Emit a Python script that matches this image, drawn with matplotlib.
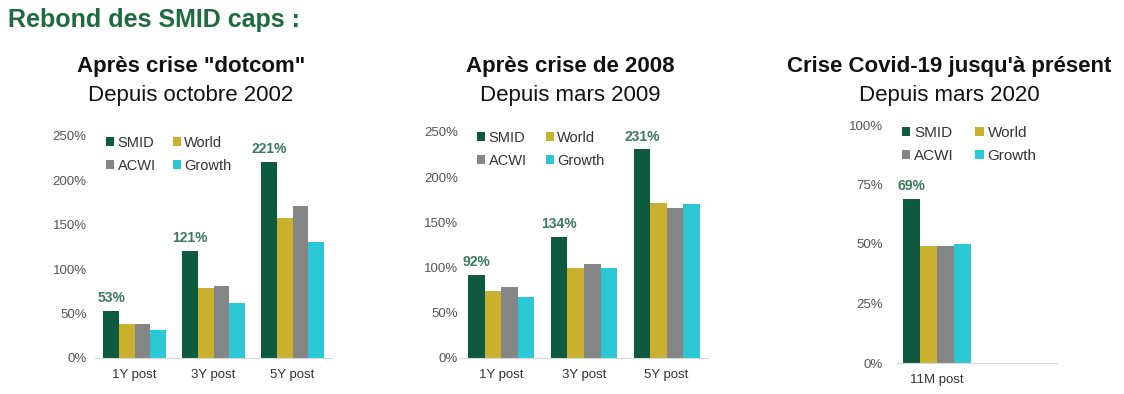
import matplotlib
matplotlib.use("Agg")
import matplotlib.pyplot as plt
from matplotlib.patches import Patch
import numpy as np

plt.rcParams['font.family'] = ['Liberation Sans', 'DejaVu Sans']

series = ["SMID", "World", "ACWI", "Growth"]
colors = ["#0e5a40", "#c9b12f", "#858585", "#2bc7d4"]

cats_dotcom = ["1Y post", "3Y post", "5Y post"]
smid_dotcom = [53, 121, 221]
world_dotcom = [38, 79, 158]
acwi_dotcom = [38, 81, 171]
growth_dotcom = [31, 62, 131]

cats_2008 = ["1Y post", "3Y post", "5Y post"]
smid_2008 = [92, 134, 231]
world_2008 = [74, 100, 172]
acwi_2008 = [78, 104, 166]
growth_2008 = [68, 100, 170]

cats_covid = ["11M post"]
smid_covid = [69]
world_covid = [49]
acwi_covid = [49]
growth_covid = [50]

ticks_250 = [0, 50, 100, 150, 200, 250]
ticks_100 = [0, 25, 50, 75, 100]

label_color = "#3b7a5e"
title_green = "#1d6b3e"

fig = plt.figure(figsize=(11.24, 3.94), dpi=100)
W, H = 1124, 394

def make_axes(x0, x1, ytop, ybot):
    return fig.add_axes([x0 / W, 1 - ybot / H, (x1 - x0) / W, (ybot - ytop) / H])

def draw(ax, cats, data, ymax, ticks, ncat_axis, bw, legend_xy, ypad, lfs, csp):
    x = np.arange(len(cats))
    for i, (vals, c) in enumerate(zip(data, colors)):
        ax.bar(x + (i - 1.5) * bw, vals, width=bw, color=c, zorder=2)
    for xi, v in zip(x, data[0]):
        ax.annotate(f"{v}%", (xi - 1.5 * bw, v), xytext=(0, 4), textcoords="offset points",
                    ha="center", va="bottom", fontsize=10, fontweight="bold", color=label_color)
    ax.set_xlim(-0.5, ncat_axis - 0.5)
    ax.set_ylim(0, ymax)
    ax.set_yticks(ticks)
    ax.set_yticklabels([f"{t}%" for t in ticks], fontsize=9.5, color="#555555")
    ax.set_xticks(x)
    ax.set_xticklabels(cats, fontsize=9.5, color="#333333")
    ax.tick_params(axis="both", length=0)
    ax.tick_params(axis="x", pad=8)
    ax.tick_params(axis="y", pad=ypad)
    for s in ["top", "right", "left"]:
        ax.spines[s].set_visible(False)
    ax.spines["bottom"].set_color("#d9d9d9")
    handles = [Patch(facecolor=c, edgecolor="none", label=s) for s, c in zip(series, colors)]
    order = [0, 2, 1, 3]  # column-wise fill -> rows: SMID, World / ACWI, Growth
    leg = fig.legend(handles=[handles[i] for i in order], ncol=2, frameon=False,
                     loc="upper left", bbox_to_anchor=(legend_xy[0] / W, 1 - legend_xy[1] / H),
                     fontsize=lfs, handlelength=0.55, handleheight=0.55, handletextpad=0.25,
                     columnspacing=csp, labelspacing=0.6, borderpad=0, borderaxespad=0)
    for t in leg.get_texts():
        t.set_color("#333333")

ax1 = make_axes(95, 332, 136, 358)
draw(ax1, cats_dotcom, [smid_dotcom, world_dotcom, acwi_dotcom, growth_dotcom],
     250, ticks_250, 3, 0.198, (106, 136), 6, 10.5, 1.15)

ax2 = make_axes(460, 708, 132, 358)
draw(ax2, cats_2008, [smid_2008, world_2008, acwi_2008, growth_2008],
     250, ticks_250, 3, 0.2, (477, 131), 1.5, 10.5, 1.3)

ax3 = make_axes(897, 1057, 125, 363)
draw(ax3, cats_covid, [smid_covid, world_covid, acwi_covid, growth_covid],
     100, ticks_100, 2, 0.215, (902, 126), 10, 11, 1.4)

fig.text(8 / W, 1 - 27 / H, "Rebond des SMID caps :", fontsize=18, fontweight="bold",
         color=title_green, ha="left", va="baseline")

for cx, t1, t2 in [(191, "Après crise \"dotcom\"", "Depuis octobre 2002"),
                   (570, "Après crise de 2008", "Depuis mars 2009"),
                   (949, "Crise Covid-19 jusqu'à présent", "Depuis mars 2020")]:
    fig.text(cx / W, 1 - 72 / H, t1, fontsize=16, fontweight="bold", color="#111111",
             ha="center", va="baseline")
    fig.text(cx / W, 1 - 101 / H, t2, fontsize=16, color="#111111",
             ha="center", va="baseline")

fig.savefig("out.png", dpi=100, facecolor="white")
